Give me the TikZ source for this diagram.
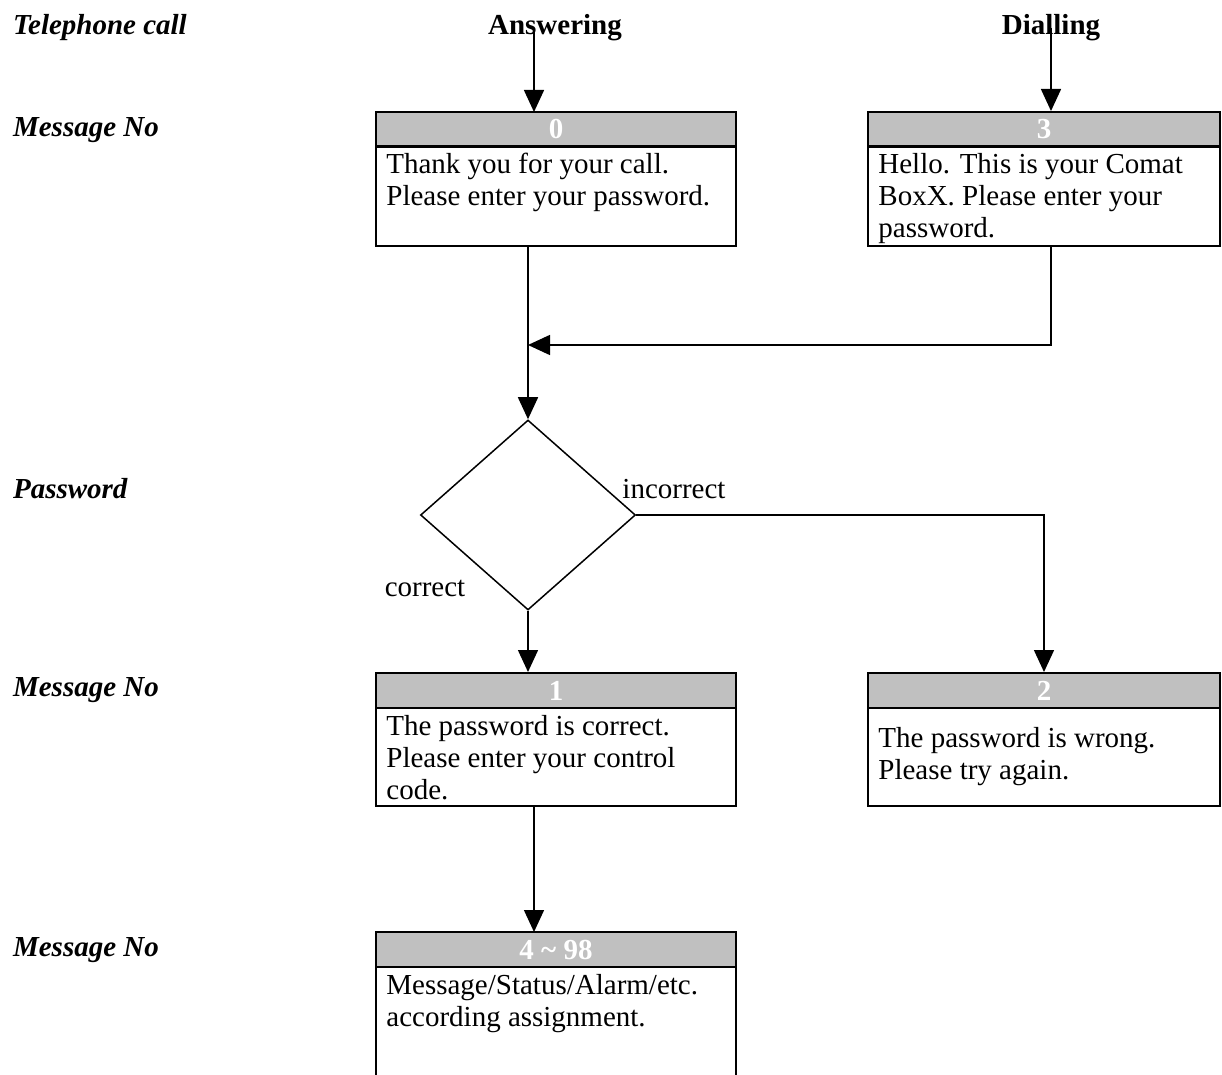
\documentclass[tikz,border=0pt]{standalone}
\usepackage{fontspec}
\setmainfont{Liberation Serif}
\usetikzlibrary{shapes.geometric,arrows.meta}
\definecolor{headgray}{RGB}{192,192,192}
\begin{document}
\begin{tikzpicture}[x=0.5pt,y=-0.5pt,
	font=\fontsize{14.5pt}{16pt}\selectfont,
	head/.style={draw,line width=1pt,fill=headgray,minimum width=180pt,minimum height=17.5pt,inner sep=0pt,text=white,font=\fontsize{14.5pt}{16pt}\selectfont\bfseries},
	body/.style={draw,line width=1pt,minimum width=180pt,inner sep=0pt},
	txt/.style={align=left,inner xsep=5.5pt,inner ysep=4pt},
	lbl/.style={anchor=west,font=\fontsize{14.5pt}{16pt}\selectfont\bfseries\itshape},
	arr/.style={line width=0.75pt,-{Triangle[length=11pt,width=10pt]}}]
	\useasboundingbox (0,0) rectangle (1222,1075);
	% row labels
	\node [lbl] (rcall) at (6,28) {Telephone call};
	\node [lbl] (rmsg0) at (6,130) {Message No};
	\node [lbl] (rpass) at (6,489) {Password};
	\node [lbl] (rmsg1) at (6,690) {Message No};
	\node [lbl] (rmsg4) at (6,950) {Message No};
	\node [font=\fontsize{14.5pt}{16pt}\selectfont\bfseries] (answ) at (555,28) {Answering};
	\node [font=\fontsize{14.5pt}{16pt}\selectfont\bfseries] (dial) at (1051,28) {Dialling};
	% message boxes
	\node [head] (h0) at (556,129.5) {0};
	\node [body,minimum height=50pt] (b0) at (556,196) {};
	\node [txt,anchor=north west] (t0) at (b0.north west) {Thank you for your call.\\Please enter your password.};
	\node [head,minimum width=176pt] (h3) at (1044,129.5) {3};
	\node [body,minimum width=176pt,minimum height=50pt] (b3) at (1044,196) {};
	\node [txt,anchor=north west] (t3) at (b3.north west) {Hello. This is your Comat\\BoxX. Please enter your\\password.};
	\node [diamond,draw,line width=0.75pt,minimum width=107.5pt,minimum height=95pt,inner sep=0pt] (pw) at (528,515) {};
	\node (incorr) at (674,489) {incorrect};
	\node (corr) at (425,588) {correct};
	\node [head] (h1) at (556,690.5) {1};
	\node [body,minimum height=49pt] (b1) at (556,757) {};
	\node [txt,anchor=north west] (t1) at (b1.north west) {The password is correct.\\Please enter your control\\code.};
	\node [head,minimum width=176pt] (h2) at (1044,690.5) {2};
	\node [body,minimum width=176pt,minimum height=49pt] (b2) at (1044,757) {};
	\node [txt,anchor=west] (t2) at (b2.west) {The password is wrong.\\Please try again.};
	\node [head] (h4) at (556,949.5) {4 \char`~\ 98};
	\node [body,minimum height=59pt] (b4) at (556,1026) {};
	\node [txt,anchor=north west] (t4) at (b4.north west) {Message/Status/Alarm/etc.\\according assignment.};
	% connectors
	\coordinate (in0) at (534,112);
	\coordinate (in4) at (534,932);
	\coordinate (join) at (528,345);
	\draw [arr] (in0 |- answ.center) -- (in0);
	\draw [arr] (dial.center) -- (dial.center |- h3.north);
	\draw [line width=0.75pt] (pw.north |- b0.south) -- (join);
	\draw [arr] (join) -- (pw.north);
	\draw [arr] (dial.center |- b3.south) |- (join);
	\draw [arr] (pw.east) -| (h2.north);
	\draw [arr] (pw.south) -- (pw.south |- h1.north);
	\draw [arr] (in4 |- b1.south) -- (in4);
\end{tikzpicture}
\end{document}
